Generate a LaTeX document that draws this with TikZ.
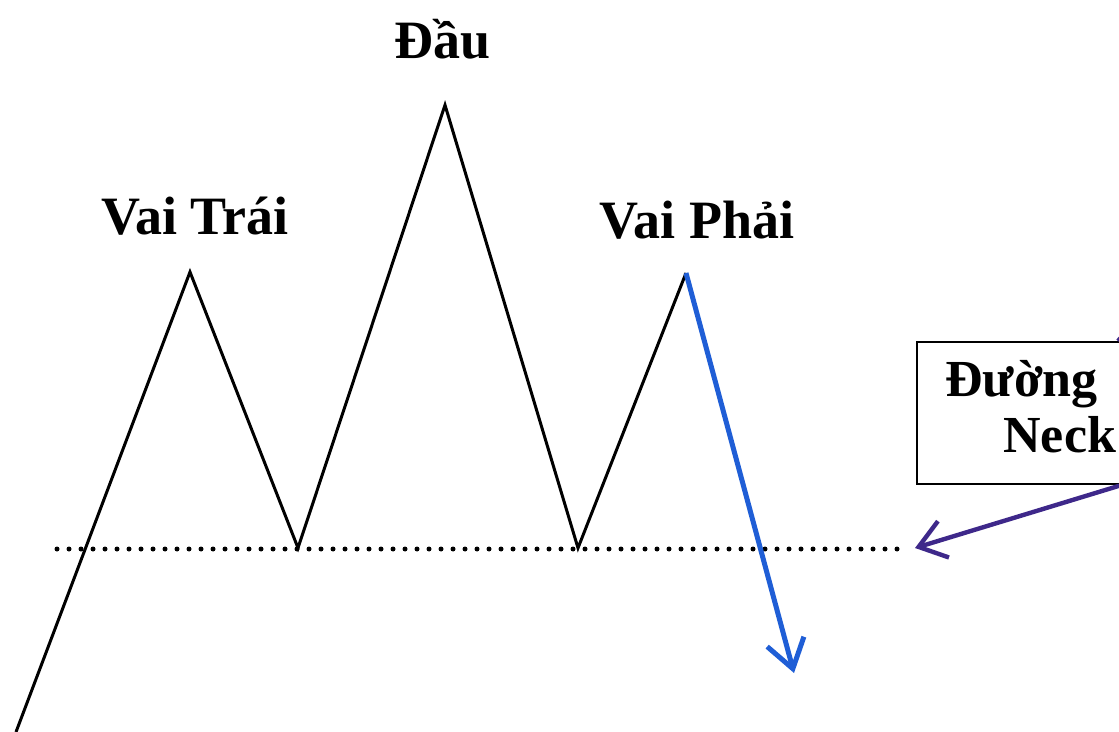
\documentclass[tikz,border=0pt]{standalone}
\usepackage{fontspec}
\setmainfont{Liberation Serif}
\usetikzlibrary{arrows.meta}
\definecolor{arrblue}{RGB}{31,94,214}
\definecolor{arrpurple}{RGB}{62,40,138}
\tikzset{
  price/.style={line width=1.5pt, black, line join=miter},
  neckline/.style={line width=2.5pt, line cap=round, dash pattern=on 0pt off 6pt},
  bluearrow/.style={line width=2.5pt, arrblue, -{Straight Barb[length=14pt,width=19pt,line width=2.5pt]}},
  purplearrow/.style={line width=2.2pt, arrpurple, -{Straight Barb[length=13pt,width=19pt,line width=2.2pt]}},
  lbl/.style={inner sep=0pt, font=\fontsize{27pt}{27pt}\selectfont\bfseries, anchor=base},
  boxlbl/.style={inner sep=0pt, font=\fontsize{26pt}{26pt}\selectfont\bfseries, anchor=base west},
  labelbox/.style={draw, line width=0.9pt, inner sep=0pt, minimum width=112pt, minimum height=71pt, anchor=north west}
}
\begin{document}
\begin{tikzpicture}[x=0.5pt,y=-0.5pt]
\useasboundingbox (0,0) rectangle (1119,732);
\clip (0,0) rectangle (1119,732);
\fill[white] (0,0) rectangle (1119,732);
% price path vertices
\coordinate (start) at (16,732);
\coordinate (ls) at (190,272);
\coordinate (v1) at (298,548);
\coordinate (hd) at (445,105);
\coordinate (v2) at (578,548);
\coordinate (rs) at (686,273);
\coordinate (tgt) at (794,673);
\coordinate (nl) at (57,549);
\coordinate (nr) at (903,549);
% neckline
\draw[neckline] (nl) -- (nr);
% price
\draw[price] (start) -- (ls) -- (v1) -- (hd) -- (v2) -- (rs);
% breakout
\draw[bluearrow] (rs) -- (tgt);
% labels
\node[lbl] (head) at (443,59) {Đầu};
\node[lbl] (lsl) at (195,235) {Vai Trái};
\node[lbl] (rsl) at (697,239) {Vai Phải};
% box
\node[labelbox] (bx) at (916,341) {};
\node[boxlbl] (bt1) at (945,397) {Đường};
\node[boxlbl] (bt2) at (1003,452) {Neck};
\coordinate (pa) at (1125,484);
\coordinate (pt) at (915,548);
\coordinate (pu0) at (1118,341);
\coordinate (pu1) at (1131,326);
\draw[purplearrow] (pa) -- (pt);
\draw[line width=2.2pt, arrpurple] (pu0) -- (pu1);
\end{tikzpicture}
\end{document}
